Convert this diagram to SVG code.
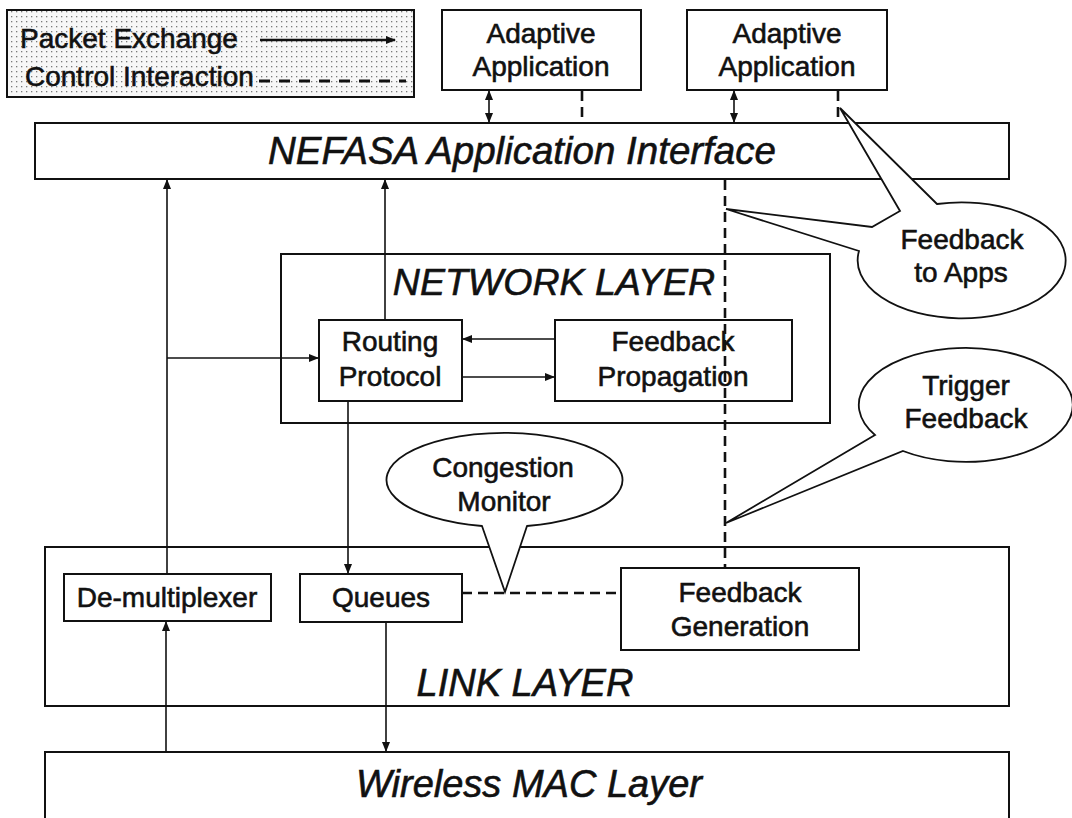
<svg xmlns="http://www.w3.org/2000/svg" width="1072" height="818" viewBox="0 0 1072 818">
<style>
.box{fill:#fff;stroke:#111;stroke-width:2}
.lbl{font-family:"Liberation Sans",Arial,sans-serif;font-size:28px;fill:#111;stroke:#111;stroke-width:0.6;text-anchor:middle}
.big{font-family:"Liberation Sans",Arial,sans-serif;font-style:italic;fill:#111;stroke:#111;stroke-width:0.6;text-anchor:middle}
.pk{fill:none;stroke:#111;stroke-width:1.6}
.ctl{fill:none;stroke:#111;stroke-width:2.6;stroke-dasharray:10 6}
.call{fill:#fff;stroke:#111;stroke-width:1.8;stroke-linejoin:miter}
</style>
<defs>
<pattern id="dots" width="5" height="5" patternUnits="userSpaceOnUse">
<rect width="5" height="5" fill="#f7f7f7"/>
<rect x="1" y="1" width="1.3" height="1.3" fill="#7a7a7a"/>
</pattern>
<marker id="ah" markerUnits="userSpaceOnUse" markerWidth="10" markerHeight="8" refX="9" refY="4" orient="auto-start-reverse">
<path d="M0,0 L10,4 L0,8 Z" fill="#111"/>
</marker>
</defs>
<rect width="1072" height="818" fill="#fff"/>

<g id="legend">
<rect x="7" y="10" width="407" height="87" fill="url(#dots)" stroke="#111" stroke-width="2"/>
<text class="lbl" x="20" y="48" style="text-anchor:start">Packet Exchange</text>
<line x1="260" y1="40" x2="395" y2="40" stroke="#111" stroke-width="2.4" marker-end="url(#ah)"/>
<text class="lbl" x="25" y="86" style="text-anchor:start">Control Interaction</text>
<line x1="259" y1="81" x2="406" y2="81" stroke="#111" stroke-width="2.8" stroke-dasharray="11 9"/>
</g>

<g id="app1">
<rect class="box" x="442" y="10" width="199" height="80"/>
<text class="lbl" x="541" y="43">Adaptive</text>
<text class="lbl" x="541" y="76">Application</text>
</g>
<g id="app2">
<rect class="box" x="687" y="10" width="200" height="80"/>
<text class="lbl" x="787" y="43">Adaptive</text>
<text class="lbl" x="787" y="76">Application</text>
</g>

<g id="nefasa">
<rect class="box" x="35" y="123" width="974" height="56"/>
<text class="big" x="522" y="164" font-size="38.5">NEFASA Application Interface</text>
</g>

<g id="network-layer">
<rect class="box" x="281" y="254" width="549" height="169"/>
<text class="big" x="554" y="295" font-size="37.5">NETWORK LAYER</text>
</g>
<g id="routing">
<rect class="box" x="319" y="320" width="143" height="81"/>
<text class="lbl" x="390" y="351">Routing</text>
<text class="lbl" x="390" y="386">Protocol</text>
</g>
<g id="feedback-propagation">
<rect class="box" x="555" y="320" width="237" height="81"/>
<text class="lbl" x="673" y="351">Feedback</text>
<text class="lbl" x="673" y="386">Propagation</text>
</g>

<g id="link-layer">
<rect class="box" x="45" y="547" width="964" height="159"/>
<text class="big" x="525" y="696" font-size="38">LINK LAYER</text>
</g>
<g id="demux">
<rect class="box" x="64" y="574" width="207" height="47"/>
<text class="lbl" x="167" y="607">De-multiplexer</text>
</g>
<g id="queues">
<rect class="box" x="300" y="574" width="162" height="48"/>
<text class="lbl" x="381" y="607">Queues</text>
</g>
<g id="feedback-generation">
<rect class="box" x="621" y="568" width="238" height="82"/>
<text class="lbl" x="740" y="602">Feedback</text>
<text class="lbl" x="740" y="636">Generation</text>
</g>

<g id="mac">
<rect class="box" x="45" y="752" width="964" height="80"/>
<text class="big" x="529" y="797" font-size="38">Wireless MAC Layer</text>
</g>

<g id="connectors">
<line class="pk" x1="489" y1="91" x2="489" y2="122" marker-start="url(#ah)" marker-end="url(#ah)"/>
<line class="pk" x1="734" y1="91" x2="734" y2="122" marker-start="url(#ah)" marker-end="url(#ah)"/>
<line class="ctl" x1="582" y1="91" x2="582" y2="123"/>
<line class="ctl" x1="838" y1="91" x2="838" y2="123"/>
<line class="pk" x1="167" y1="574" x2="167" y2="180" marker-end="url(#ah)"/>
<line class="pk" x1="167" y1="358" x2="318" y2="358" marker-end="url(#ah)"/>
<line class="pk" x1="385" y1="320" x2="385" y2="180" marker-end="url(#ah)"/>
<line class="pk" x1="555" y1="339" x2="463" y2="339" marker-end="url(#ah)"/>
<line class="pk" x1="462" y1="377" x2="554" y2="377" marker-end="url(#ah)"/>
<line class="pk" x1="348" y1="401" x2="348" y2="573" marker-end="url(#ah)"/>
<line class="pk" x1="386" y1="622" x2="386" y2="751" marker-end="url(#ah)"/>
<line class="pk" x1="166" y1="752" x2="166" y2="622" marker-end="url(#ah)"/>
<line class="ctl" x1="725" y1="180" x2="725" y2="568"/>
<line class="ctl" x1="462" y1="593" x2="621" y2="593"/>
</g>

<g id="callout-feedback-apps">
<path class="call" d="M937,204 L840,108 L900,211 L872,227 L726,209 L859,251 A104,58 0 1 0 937,204 Z"/>
<text class="lbl" x="962" y="249">Feedback</text>
<text class="lbl" x="961" y="282">to Apps</text>
</g>
<g id="callout-trigger">
<path class="call" d="M875,435 L726,523 L903,451 A107,57 0 1 0 875,435 Z"/>
<text class="lbl" x="966" y="395">Trigger</text>
<text class="lbl" x="966" y="428">Feedback</text>
</g>
<g id="callout-congestion">
<path class="call" d="M527,526 L505,592 L482,526 A118,47 0 1 1 527,526 Z"/>
<text class="lbl" x="503" y="477">Congestion</text>
<text class="lbl" x="504" y="511">Monitor</text>
</g>
</svg>
